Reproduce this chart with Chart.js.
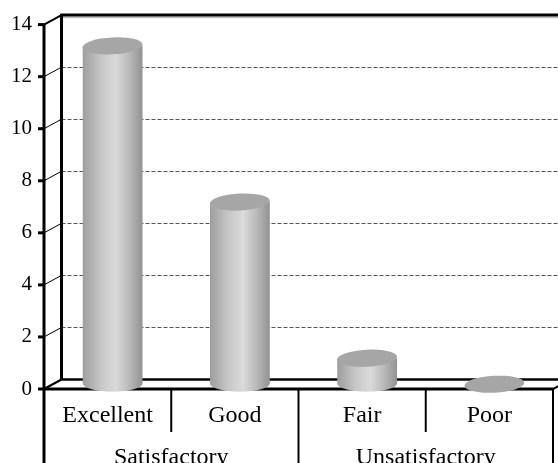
<!DOCTYPE html>
<html>
<head>
<meta charset="utf-8">
<script src="https://cdn.jsdelivr.net/npm/chart.js@4.4.0/dist/chart.umd.min.js"></script>
<style>
  html, body { margin: 0; padding: 0; background: #fff; }
  canvas { display: block; }
</style>
</head>
<body>
<canvas id="chart" width="558" height="463"></canvas>
<script>
// Data
const categories = ['Excellent', 'Good', 'Fair', 'Poor'];
const groups = ['Satisfactory', 'Unsatisfactory'];
const groupSizes = [2, 2];
const counts = [13, 7, 1, 0];
const yTicks = [0, 2, 4, 6, 8, 10, 12, 14];

// depth of the 3D box (back wall offset)
const DX = 17.5, DY = -9.5;
const FONT = 'Liberation Serif';

function line(ctx, x1, y1, x2, y2) {
    ctx.beginPath();
    ctx.moveTo(x1, y1);
    ctx.lineTo(x2, y2);
    ctx.stroke();
}

const box3d = {
    id: 'box3d',
    beforeDatasetsDraw(chart) {
        const { ctx, chartArea: a, scales: { x, y } } = chart;
        const W = chart.width, H = chart.height;
        ctx.save();
        ctx.lineCap = 'butt';

        // dashed gridlines on the back wall
        ctx.setLineDash([4, 2]);
        ctx.strokeStyle = '#555';
        ctx.lineWidth = 1;
        yTicks.forEach(v => {
            if (v === 0 || v === 14) return;
            const py = Math.round(y.getPixelForValue(v) + DY) + 0.5;
            line(ctx, a.left + DX, py, W, py);
        });
        ctx.setLineDash([]);

        // side wall connectors
        ctx.strokeStyle = '#000';
        ctx.lineWidth = 1;
        yTicks.forEach(v => {
            const py = y.getPixelForValue(v);
            line(ctx, a.left, py, a.left + DX, py + DY);
        });
        ctx.lineWidth = 2;
        line(ctx, a.left, a.top, a.left + DX, a.top + DY);
        line(ctx, a.left, a.bottom, a.left + DX, a.bottom + DY);
        line(ctx, a.right, a.bottom, a.right + DX, a.bottom + DY);

        // back wall edges
        ctx.strokeStyle = '#bbb';
        ctx.lineWidth = 1.5;
        line(ctx, a.left + DX + 1, a.top + DY + 2.5, W, a.top + DY + 2.5);
        ctx.strokeStyle = '#000';
        ctx.lineWidth = 3;
        line(ctx, a.left + DX, a.top + DY - 1, a.left + DX, a.bottom + DY);
        line(ctx, a.left + DX - 1, a.top + DY, W, a.top + DY);
        ctx.lineWidth = 2.5;
        line(ctx, a.left + DX, a.bottom + DY, W, a.bottom + DY);

        // front axis, floor and ticks
        ctx.lineWidth = 3;
        line(ctx, a.left, a.top, a.left, H);
        line(ctx, a.left, a.bottom, a.right, a.bottom);
        yTicks.forEach(v => {
            const py = y.getPixelForValue(v);
            line(ctx, a.left - 6, py, a.left, py);
        });

        // category table lines
        ctx.lineWidth = 2;
        const edge = i => i === 0 ? a.left : i === categories.length ? a.right
            : (x.getPixelForValue(i - 1) + x.getPixelForValue(i)) / 2;
        const groupEdges = [];
        let n = 0;
        groupSizes.forEach(s => { n += s; groupEdges.push(n); });
        for (let i = 1; i <= categories.length; i++) {
            const full = groupEdges.includes(i);
            line(ctx, edge(i), a.bottom, edge(i), full ? H : x.bottom);
        }
        ctx.restore();
    },
    afterDatasetsDraw(chart) {
        const { ctx } = chart;
        const meta = chart.getDatasetMeta(0);
        const ry = 8.5;
        ctx.save();
        meta.data.forEach((el, i) => {
            const cx = el.x + 5;
            const rx = el.width / 2;
            const yt = el.y + DY / 2;
            const yb = el.base + DY / 2 - 1;
            if (yb - yt > 0.5) {
                const g = ctx.createLinearGradient(cx - rx, 0, cx + rx, 0);
                g.addColorStop(0, '#9e9e9e');
                g.addColorStop(0.3, '#c6c6c6');
                g.addColorStop(0.55, '#dadada');
                g.addColorStop(0.8, '#b6b6b6');
                g.addColorStop(1, '#929292');
                ctx.beginPath();
                ctx.moveTo(cx - rx, yt);
                ctx.lineTo(cx - rx, yb);
                ctx.ellipse(cx, yb, rx, ry, 0, Math.PI, 0, true);
                ctx.lineTo(cx + rx, yt);
                ctx.closePath();
                ctx.fillStyle = g;
                ctx.fill();
            }
            ctx.beginPath();
            ctx.ellipse(cx, yt, rx, ry, -0.05, 0, Math.PI * 2);
            ctx.fillStyle = '#a6a6a6';
            ctx.fill();
        });
        ctx.restore();
    }
};

new Chart(document.getElementById('chart').getContext('2d'), {
    type: 'bar',
    data: {
        labels: categories,
        datasets: [{
            label: 'Count',
            data: counts,
            backgroundColor: 'rgba(0,0,0,0)',
            borderWidth: 0,
            categoryPercentage: 1,
            barPercentage: 0.47
        }]
    },
    options: {
        responsive: false,
        animation: false,
        layout: { padding: { top: 23, right: 5, left: 0, bottom: 0 } },
        plugins: {
            legend: { display: false },
            tooltip: { enabled: false }
        },
        scales: {
            x: {
                position: 'bottom',
                weight: 0,
                grid: { display: false, drawTicks: false },
                border: { display: false },
                ticks: {
                    color: '#000',
                    padding: 12,
                    autoSkip: false,
                    maxRotation: 0,
                    font: { family: FONT, size: 24 }
                },
                afterFit(s) { s.height = 43; }
            },
            x2: {
                type: 'category',
                labels: groups,
                offset: true,
                position: 'bottom',
                weight: 1,
                grid: { display: false, drawTicks: false },
                border: { display: false },
                ticks: {
                    color: '#000',
                    padding: 11,
                    autoSkip: false,
                    maxRotation: 0,
                    font: { family: FONT, size: 24 }
                },
                afterFit(s) { s.height = 31; }
            },
            y: {
                min: 0,
                max: 14,
                grid: { display: false, drawTicks: false },
                border: { display: false },
                ticks: {
                    stepSize: 2,
                    color: '#000',
                    padding: 12,
                    font: { family: FONT, size: 21 }
                },
                afterFit(s) { s.width = 44; }
            }
        }
    },
    plugins: [box3d]
});
</script>
</body>
</html>
